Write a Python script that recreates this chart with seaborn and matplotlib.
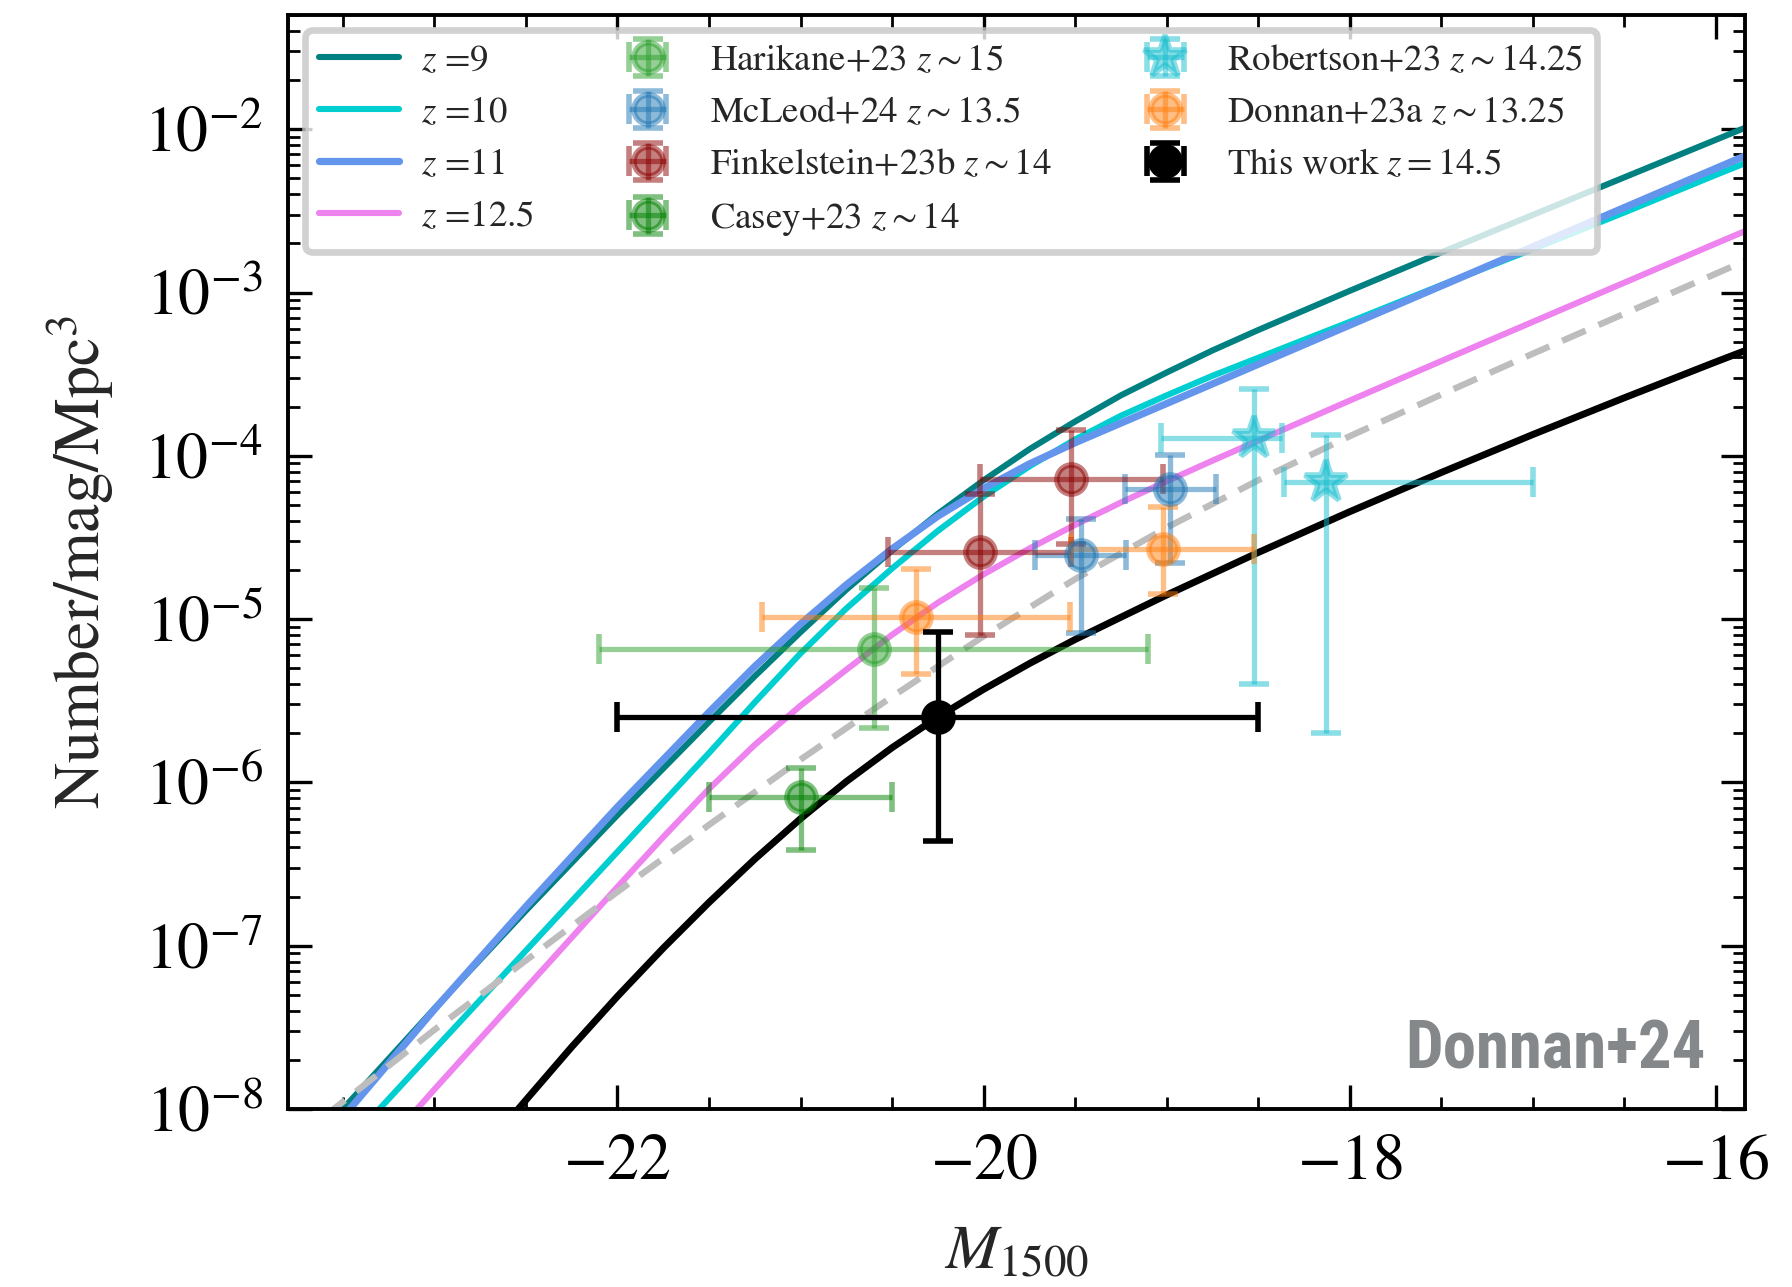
import numpy as np
import pandas as pd
import matplotlib
matplotlib.use("Agg")
import matplotlib.pyplot as plt
import seaborn as sns
from matplotlib import font_manager as fm
from matplotlib.ticker import LogLocator, MultipleLocator, NullFormatter

# ---------------------------------------------------------------------------
# UV luminosity function models: M_1500 grid and log10(phi / mag^-1 Mpc^-3)
# ---------------------------------------------------------------------------
M_Z9 = [-23.55, -23.5, -23.0, -22.5, -22.0, -21.5, -21.25, -21.0, -20.75,
        -20.5, -20.25, -20.0, -19.75, -19.5, -19.25, -19.0, -18.75, -18.5,
        -18.0, -17.5, -17.0, -16.5, -16.0, -15.8]
LOGPHI_Z9 = [-8.06, -8.00, -7.385, -6.785, -6.20, -5.63, -5.35, -5.08, -4.82,
             -4.58, -4.355, -4.15, -3.96, -3.79, -3.63, -3.49, -3.355, -3.23,
             -2.99, -2.755, -2.525, -2.295, -2.065, -1.973]

M_Z10 = [-23.35, -23.0, -22.5, -22.0, -21.5, -21.25, -21.0, -20.75, -20.5,
         -20.25, -20.0, -19.75, -19.5, -19.25, -19.0, -18.75, -18.5, -18.0,
         -17.5, -17.0, -16.5, -16.0, -15.8]
LOGPHI_Z10 = [-8.06, -7.635, -7.03, -6.425, -5.82, -5.51, -5.21, -4.935, -4.69,
              -4.46, -4.25, -4.065, -3.90, -3.755, -3.63, -3.51, -3.40, -3.18,
              -2.955, -2.735, -2.51, -2.28, -2.19]

M_Z11 = [-23.5, -23.0, -22.5, -22.0, -21.5, -21.25, -21.0, -20.75, -20.5,
         -20.25, -20.0, -19.75, -19.5, -19.25, -19.0, -18.5, -18.0, -17.5,
         -17.0, -16.5, -16.0, -15.8]
LOGPHI_Z11 = [-8.05, -7.39, -6.76, -6.15, -5.57, -5.29, -5.03, -4.79, -4.57,
              -4.37, -4.20, -4.05, -3.92, -3.80, -3.68, -3.44, -3.20, -2.96,
              -2.72, -2.48, -2.24, -2.144]

M_Z125 = [-23.15, -23.0, -22.5, -22.0, -21.75, -21.5, -21.25, -21.0, -20.75,
          -20.5, -20.25, -20.0, -19.75, -19.5, -19.25, -19.0, -18.75, -18.5,
          -18.0, -17.5, -17.0, -16.5, -16.0, -15.8]
LOGPHI_Z125 = [-8.07, -7.88, -7.26, -6.64, -6.335, -6.04, -5.77, -5.53, -5.31,
               -5.096, -4.90, -4.726, -4.568, -4.423, -4.286, -4.156, -4.03, -3.907,
               -3.662, -3.42, -3.18, -2.94, -2.70, -2.605]

M_DASHED = [-23.6, -23.55, -23.0, -22.5, -22.0, -21.5, -21.0, -20.5, -20.0,
            -19.5, -19.0, -18.5, -18.0, -17.5, -17.0, -16.5, -16.0, -15.8]
LOGPHI_DASHED = [-8.04, -8.00, -7.515, -7.09, -6.67, -6.26, -5.86, -5.475, -5.105,
                 -4.755, -4.44, -4.15, -3.88, -3.625, -3.375, -3.13, -2.885, -2.787]

M_Z145 = [-22.58, -22.5, -22.25, -22.0, -21.75, -21.5, -21.25, -21.0, -20.75,
          -20.5, -20.25, -20.0, -19.75, -19.5, -19.0, -18.5, -18.0, -17.5,
          -17.0, -16.5, -16.0, -15.8]
LOGPHI_Z145 = [-8.05, -7.945, -7.62, -7.31, -7.015, -6.735, -6.47, -6.2225, -5.995,
               -5.7875, -5.60, -5.43, -5.2725, -5.125, -4.8525, -4.5925, -4.3425, -4.1025,
               -3.87, -3.645, -3.425, -3.339]

# ---------------------------------------------------------------------------
# Binned measurements: magnitude, magnitude half-widths, phi and its bounds
# ---------------------------------------------------------------------------
HARIKANE_M = [-20.60]
HARIKANE_DM_LO = [1.50]
HARIKANE_DM_HI = [1.50]
HARIKANE_PHI = [6.6e-6]
HARIKANE_PHI_LO = [2.15e-6]
HARIKANE_PHI_HI = [1.54e-5]

MCLEOD_M = [-19.47, -18.98]
MCLEOD_DM_LO = [0.25, 0.25]
MCLEOD_DM_HI = [0.25, 0.25]
MCLEOD_PHI = [2.46e-5, 6.3e-5]
MCLEOD_PHI_LO = [8.2e-6, 2.2e-5]
MCLEOD_PHI_HI = [4.13e-5, 1.01e-4]

FINKEL_M = [-20.02, -19.52]
FINKEL_DM_LO = [0.50, 0.50]
FINKEL_DM_HI = [0.50, 0.50]
FINKEL_PHI = [2.58e-5, 7.26e-5]
FINKEL_PHI_LO = [7.96e-6, 2.9e-5]
FINKEL_PHI_HI = [5.87e-5, 1.44e-4]

CASEY_M = [-21.0]
CASEY_DM_LO = [0.50]
CASEY_DM_HI = [0.50]
CASEY_PHI = [8.15e-7]
CASEY_PHI_LO = [3.84e-7]
CASEY_PHI_HI = [1.23e-6]

ROBERTSON_M = [-18.52, -18.13]
ROBERTSON_DM_LO = [0.51, 0.23]
ROBERTSON_DM_HI = [0.15, 1.13]
ROBERTSON_PHI = [1.28e-4, 6.9e-5]
ROBERTSON_PHI_LO = [3.98e-6, 2.0e-6]
ROBERTSON_PHI_HI = [2.55e-4, 1.34e-4]

DONNAN23_M = [-20.37, -19.02]
DONNAN23_DM_LO = [0.84, 0.50]
DONNAN23_DM_HI = [0.84, 0.50]
DONNAN23_PHI = [1.03e-5, 2.70e-5]
DONNAN23_PHI_LO = [4.63e-6, 1.43e-5]
DONNAN23_PHI_HI = [2.04e-5, 4.87e-5]

THIS_M = [-20.25]
THIS_DM_LO = [1.75]
THIS_DM_HI = [1.75]
THIS_PHI = [2.52e-6]
THIS_PHI_LO = [4.35e-7]
THIS_PHI_HI = [8.3e-6]

X_TICKS = [-22, -20, -18, -16]

# ---------------------------------------------------------------------------
sns.set_theme(style="ticks")
plt.rcParams.update({
    "font.family": ["STIXGeneral", "DejaVu Serif"],
    "mathtext.fontset": "stix",
    "axes.linewidth": 1.4,
    "axes.edgecolor": "black",
    "xtick.direction": "in",
    "ytick.direction": "in",
    "xtick.top": True,
    "ytick.right": True,
    "xtick.major.size": 8.5,
    "ytick.major.size": 8.5,
    "xtick.minor.size": 4.3,
    "ytick.minor.size": 4.3,
    "xtick.major.width": 1.2,
    "ytick.major.width": 1.2,
    "xtick.minor.width": 1.0,
    "ytick.minor.width": 1.0,
    "xtick.color": "black",
    "ytick.color": "black",
    "xtick.labelsize": 23,
    "ytick.labelsize": 23,
    "xtick.major.pad": 9,
    "ytick.major.pad": 9,
    "lines.solid_joinstyle": "round",
})

fig = plt.figure(figsize=(8.96, 6.435), dpi=200)
ax = fig.add_axes([0.1607, 0.1383, 0.8131, 0.8500])
ax.set_yscale("log")

model_lines = [
    (M_Z9, LOGPHI_Z9, "teal", r"$z$ =9", 2.2),
    (M_Z10, LOGPHI_Z10, "darkturquoise", r"$z$ =10", 2.2),
    (M_Z11, LOGPHI_Z11, "cornflowerblue", r"$z$ =11", 2.6),
    (M_Z125, LOGPHI_Z125, "violet", r"$z$ =12.5", 2.2),
]
for m, lp, col, lab, lw in model_lines:
    sns.lineplot(x=np.array(m), y=10.0 ** np.array(lp), ax=ax, color=col,
                 linewidth=lw, label=lab, estimator=None, sort=False, zorder=2)

sns.lineplot(x=np.array(M_DASHED), y=10.0 ** np.array(LOGPHI_DASHED), ax=ax,
             color="#bdbdbd", linewidth=2.3, estimator=None, sort=False, zorder=2)
ax.lines[-1].set_dashes((4.0, 2.2))
sns.lineplot(x=np.array(M_Z145), y=10.0 ** np.array(LOGPHI_Z145), ax=ax,
             color="black", linewidth=2.5, estimator=None, sort=False, zorder=2)


def draw_points(m, dm_lo, dm_hi, phi, lo, hi, color, label, marker="o",
                ms=10.5, alpha=0.5, z=3):
    phi = np.array(phi)
    yerr = [phi - np.array(lo), np.array(hi) - phi]
    xerr = [dm_lo, dm_hi]
    ax.errorbar(m, phi, xerr=xerr, yerr=yerr, fmt=marker, color=color,
                ms=ms, mew=2.0, elinewidth=1.9, capsize=5.5, capthick=2.7,
                alpha=alpha, label=label, zorder=z)


draw_points(HARIKANE_M, HARIKANE_DM_LO, HARIKANE_DM_HI, HARIKANE_PHI,
            HARIKANE_PHI_LO, HARIKANE_PHI_HI, "tab:green",
            r"Harikane+23 $z\sim15$")
draw_points(MCLEOD_M, MCLEOD_DM_LO, MCLEOD_DM_HI, MCLEOD_PHI,
            MCLEOD_PHI_LO, MCLEOD_PHI_HI, "tab:blue",
            r"McLeod+24 $z\sim13.5$")
draw_points(FINKEL_M, FINKEL_DM_LO, FINKEL_DM_HI, FINKEL_PHI,
            FINKEL_PHI_LO, FINKEL_PHI_HI, "darkred",
            r"Finkelstein+23b $z\sim14$")
draw_points(CASEY_M, CASEY_DM_LO, CASEY_DM_HI, CASEY_PHI,
            CASEY_PHI_LO, CASEY_PHI_HI, "green",
            r"Casey+23 $z\sim14$")
draw_points(ROBERTSON_M, ROBERTSON_DM_LO, ROBERTSON_DM_HI, ROBERTSON_PHI,
            ROBERTSON_PHI_LO, ROBERTSON_PHI_HI, "tab:cyan",
            r"Robertson+23 $z\sim14.25$", marker="*", ms=16)
draw_points(DONNAN23_M, DONNAN23_DM_LO, DONNAN23_DM_HI, DONNAN23_PHI,
            DONNAN23_PHI_LO, DONNAN23_PHI_HI, "tab:orange",
            r"Donnan+23a $z\sim13.25$")
draw_points(THIS_M, THIS_DM_LO, THIS_DM_HI, THIS_PHI,
            THIS_PHI_LO, THIS_PHI_HI, "black",
            r"This work $z=14.5$", alpha=1.0, z=4)

ax.set_xlim(-23.8, -15.84)
ax.set_ylim(1e-8, 5e-2)
ax.set_xticks(X_TICKS)
ax.set_xticklabels([r"$-%d$" % abs(v) for v in X_TICKS])
ax.xaxis.set_minor_locator(MultipleLocator(0.5))
ax.yaxis.set_major_locator(LogLocator(base=10, numticks=20))
ax.yaxis.set_minor_locator(LogLocator(base=10, subs=np.arange(2, 10), numticks=40))
ax.yaxis.set_minor_formatter(NullFormatter())

ax.set_xlabel(r"$M_{1500}$", fontsize=23, labelpad=11)
ax.set_ylabel(r"Number/mag/Mpc$^3$", fontsize=23, labelpad=10)

handles, labels = ax.get_legend_handles_labels()
leg = ax.legend(handles, labels, ncol=3, loc="upper left",
                bbox_to_anchor=(0.012, 0.986), borderaxespad=0.0,
                fontsize=13.3, handlelength=2.15, handletextpad=0.6,
                columnspacing=2.0, labelspacing=0.49, borderpad=0.38,
                frameon=True, fancybox=True, framealpha=0.8)
leg.get_frame().set_edgecolor("#c6c6c6")
leg.get_frame().set_linewidth(2.4)
leg.set_zorder(6)

# condensed bold face for the corner tag
names = {f.name: f for f in fm.fontManager.ttflist}
tag_family, tag_stretch = "DejaVu Sans", "normal"
for cand in ["Roboto Condensed", "Liberation Sans Narrow", "DejaVu Sans Condensed",
             "Open Sans Condensed", "Noto Sans Condensed"]:
    if cand in names:
        tag_family = cand
        break
else:
    if any(f.name == "DejaVu Sans" and f.stretch == "condensed"
           for f in fm.fontManager.ttflist):
        tag_stretch = "condensed"

tag = ax.text(0.973, 0.0366, "Donnan+24", transform=ax.transAxes,
              ha="right", va="baseline", color="#84888a", fontsize=29,
              fontweight="bold", family=[tag_family], fontstretch=tag_stretch,
              zorder=5)
fig.canvas.draw()
w = tag.get_window_extent(fig.canvas.get_renderer()).width
tag.set_fontsize(29 * min(1.0, 300.0 / w))

fig.savefig("out.png", dpi=200)
